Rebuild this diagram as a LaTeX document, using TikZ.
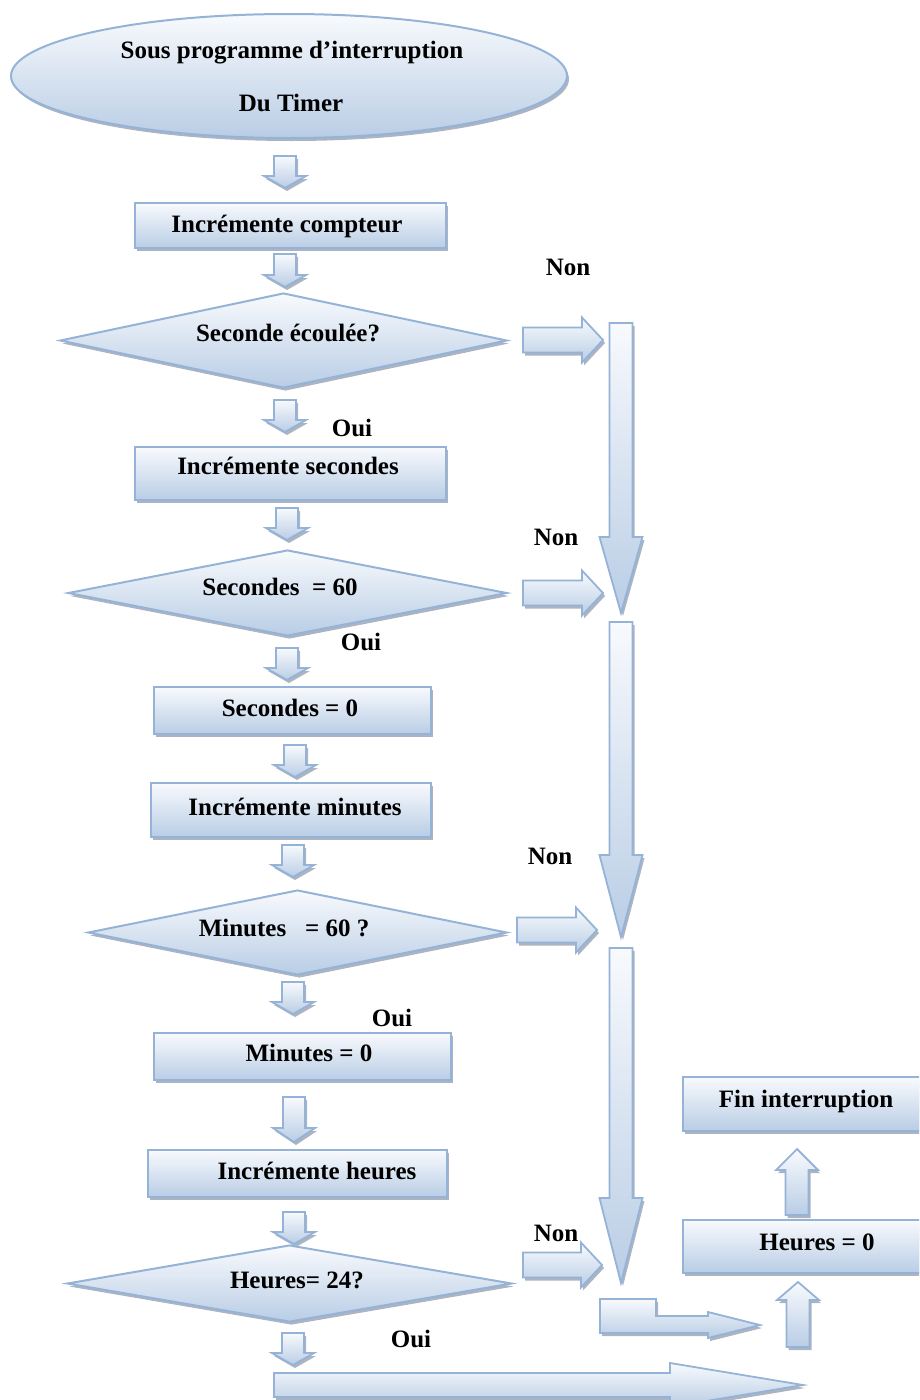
\documentclass[tikz,border=0pt]{standalone}
\usepackage{fontspec}
\setmainfont{Liberation Serif}
\usetikzlibrary{shapes.geometric,shadows}

\definecolor{edgeblue}{HTML}{95B3D7}
\definecolor{liteblue}{HTML}{F8FAFD}
\definecolor{deepblue}{HTML}{B9CDE5}
\definecolor{shadowgrey}{HTML}{A3ACBA}

\tikzset{
  fillblue/.style={draw=edgeblue, line width=2pt, top color=liteblue, bottom color=deepblue,
    drop shadow={shadow xshift=2pt, shadow yshift=-3pt, fill=shadowgrey, opacity=0.9}},
  procbox/.style={fillblue, rectangle, inner sep=0pt},
  decision/.style={fillblue, diamond, inner sep=0pt},
  startell/.style={fillblue, ellipse, inner sep=0pt},
  lbl/.style={font=\fontsize{25}{30}\selectfont\bfseries, inner sep=0pt, anchor=base},
  blk/.style={fillblue, line width=1.8pt, line join=miter},
}

% block arrows: #1 axis position, #2 start, #3 tip, #4 shaft width, #5 head width, #6 head length
\newcommand\arrowdown[6]{%
  \path[blk] ({#1-#4/2},#2) -- ({#1+#4/2},#2) -- ({#1+#4/2},{#3-#6}) -- ({#1+#5/2},{#3-#6})
    -- (#1,#3) -- ({#1-#5/2},{#3-#6}) -- ({#1-#4/2},{#3-#6}) -- cycle;}
\newcommand\arrowup[6]{%
  \path[blk] ({#1-#4/2},#2) -- ({#1+#4/2},#2) -- ({#1+#4/2},{#3+#6}) -- ({#1+#5/2},{#3+#6})
    -- (#1,#3) -- ({#1-#5/2},{#3+#6}) -- ({#1-#4/2},{#3+#6}) -- cycle;}
\newcommand\arrowright[6]{%
  \path[blk] (#2,{#1-#4/2}) -- ({#3-#6},{#1-#4/2}) -- ({#3-#6},{#1-#5/2}) -- (#3,#1)
    -- ({#3-#6},{#1+#5/2}) -- ({#3-#6},{#1+#4/2}) -- (#2,{#1+#4/2}) -- cycle;}

\begin{document}
\begin{tikzpicture}[x=1pt,y=-1pt]
\useasboundingbox (0,0) rectangle (919,1400);
\clip (0,0) rectangle (919,1400);

% start
\node[startell, minimum width=556pt, minimum height=124pt] (start) at (289,76) {};
\node[lbl] (startA) at (292,58) {Sous programme d\symbol{"27}interruption};
\node[lbl] (startB) at (291,111) {Du Timer};

% small downward arrows of the main column
\arrowdown{285}{156}{188}{22}{42}{12}
\arrowdown{285}{254}{287}{22}{42}{12}
\arrowdown{285}{400}{432}{22}{42}{12}
\arrowdown{287}{508}{540}{22}{42}{12}
\arrowdown{287}{648}{680}{22}{42}{12}
\arrowdown{295}{745}{777}{22}{42}{12}
\arrowdown{293}{845}{877}{22}{42}{12}
\arrowdown{293}{982}{1014}{22}{42}{12}
\arrowdown{294}{1097}{1142}{22}{42}{14}
\arrowdown{294}{1212}{1244}{22}{42}{12}
\arrowdown{293}{1333}{1365}{22}{42}{12}

% "Non" branches
\arrowright{340}{523}{603}{25}{45}{21}
\arrowright{593}{523}{603}{25}{45}{21}
\arrowright{930}{517}{597}{25}{45}{21}
\arrowright{1265}{523}{602}{25}{45}{21}

% right-hand collecting column
\arrowdown{621}{323}{613}{23}{43}{76}
\arrowdown{621}{622}{937}{23}{43}{82}
\arrowdown{621}{948}{1283}{23}{43}{85}

% bent arrow towards the end
\path[blk] (600,1299) -- (656,1299) -- (656,1316) -- (708,1316) -- (708,1312) -- (760,1325)
  -- (708,1338) -- (708,1333) -- (600,1333) -- cycle;

% long bottom arrow
\path[blk] (274,1373) -- (670,1373) -- (670,1363) -- (803,1385) -- (670,1407) -- (670,1397)
  -- (274,1397) -- cycle;

% upward arrows
\arrowup{798}{1347}{1282}{23}{42}{18}
\arrowup{797}{1215}{1149}{23}{42}{21}

% process boxes
\node[procbox, minimum width=311pt, minimum height=45pt] (b1) at (290.5,225.5) {};
\node[lbl] (b1t) at (287,232) {Incrémente compteur};

\node[procbox, minimum width=311pt, minimum height=53pt] (b2) at (290.5,473.5) {};
\node[lbl] (b2t) at (288,474) {Incrémente secondes};

\node[procbox, minimum width=277pt, minimum height=47pt] (b3) at (292.5,710.5) {};
\node[lbl] (b3t) at (290,716) {Secondes = 0};

\node[procbox, minimum width=280pt, minimum height=54pt] (b4) at (291,810) {};
\node[lbl] (b4t) at (295,815) {Incrémente minutes};

\node[procbox, minimum width=297pt, minimum height=47pt] (b5) at (302.5,1056.5) {};
\node[lbl] (b5t) at (309,1061) {Minutes = 0};

\node[procbox, minimum width=299pt, minimum height=47pt] (b6) at (297.5,1173.5) {};
\node[lbl] (b6t) at (317,1179) {Incrémente heures};

\node[procbox, minimum width=256pt, minimum height=53pt] (b7) at (811,1246.5) {};
\node[lbl] (b7t) at (817,1250) {Heures = 0};

\node[procbox, minimum width=256pt, minimum height=54pt] (b8) at (811,1104) {};
\node[lbl] (b8t) at (806,1107) {Fin interruption};

% decisions
\node[decision, minimum width=447pt, minimum height=95pt] (d1) at (283.5,340.5) {};
\node[lbl] (d1t) at (288,341) {Seconde écoulée?};

\node[decision, minimum width=439pt, minimum height=86pt] (d2) at (287.5,593) {};
\node[lbl] (d2t) at (280,595) {Secondes\ \ = 60};

\node[decision, minimum width=419pt, minimum height=85pt] (d3) at (297.5,932.5) {};
\node[lbl] (d3t) at (284,936) {Minutes\ \ \ = 60 ?};

\node[decision, minimum width=445pt, minimum height=77pt] (d4) at (289.5,1283.5) {};
\node[lbl] (d4t) at (297,1288) {Heures= 24?};

% branch labels
\node[lbl] (non1) at (568,275) {Non};
\node[lbl] (non2) at (556,545) {Non};
\node[lbl] (non3) at (550,864) {Non};
\node[lbl] (non4) at (556,1241) {Non};
\node[lbl] (oui1) at (352,436) {Oui};
\node[lbl] (oui2) at (361,650) {Oui};
\node[lbl] (oui3) at (392,1026) {Oui};
\node[lbl] (oui4) at (411,1347) {Oui};
\end{tikzpicture}
\end{document}
